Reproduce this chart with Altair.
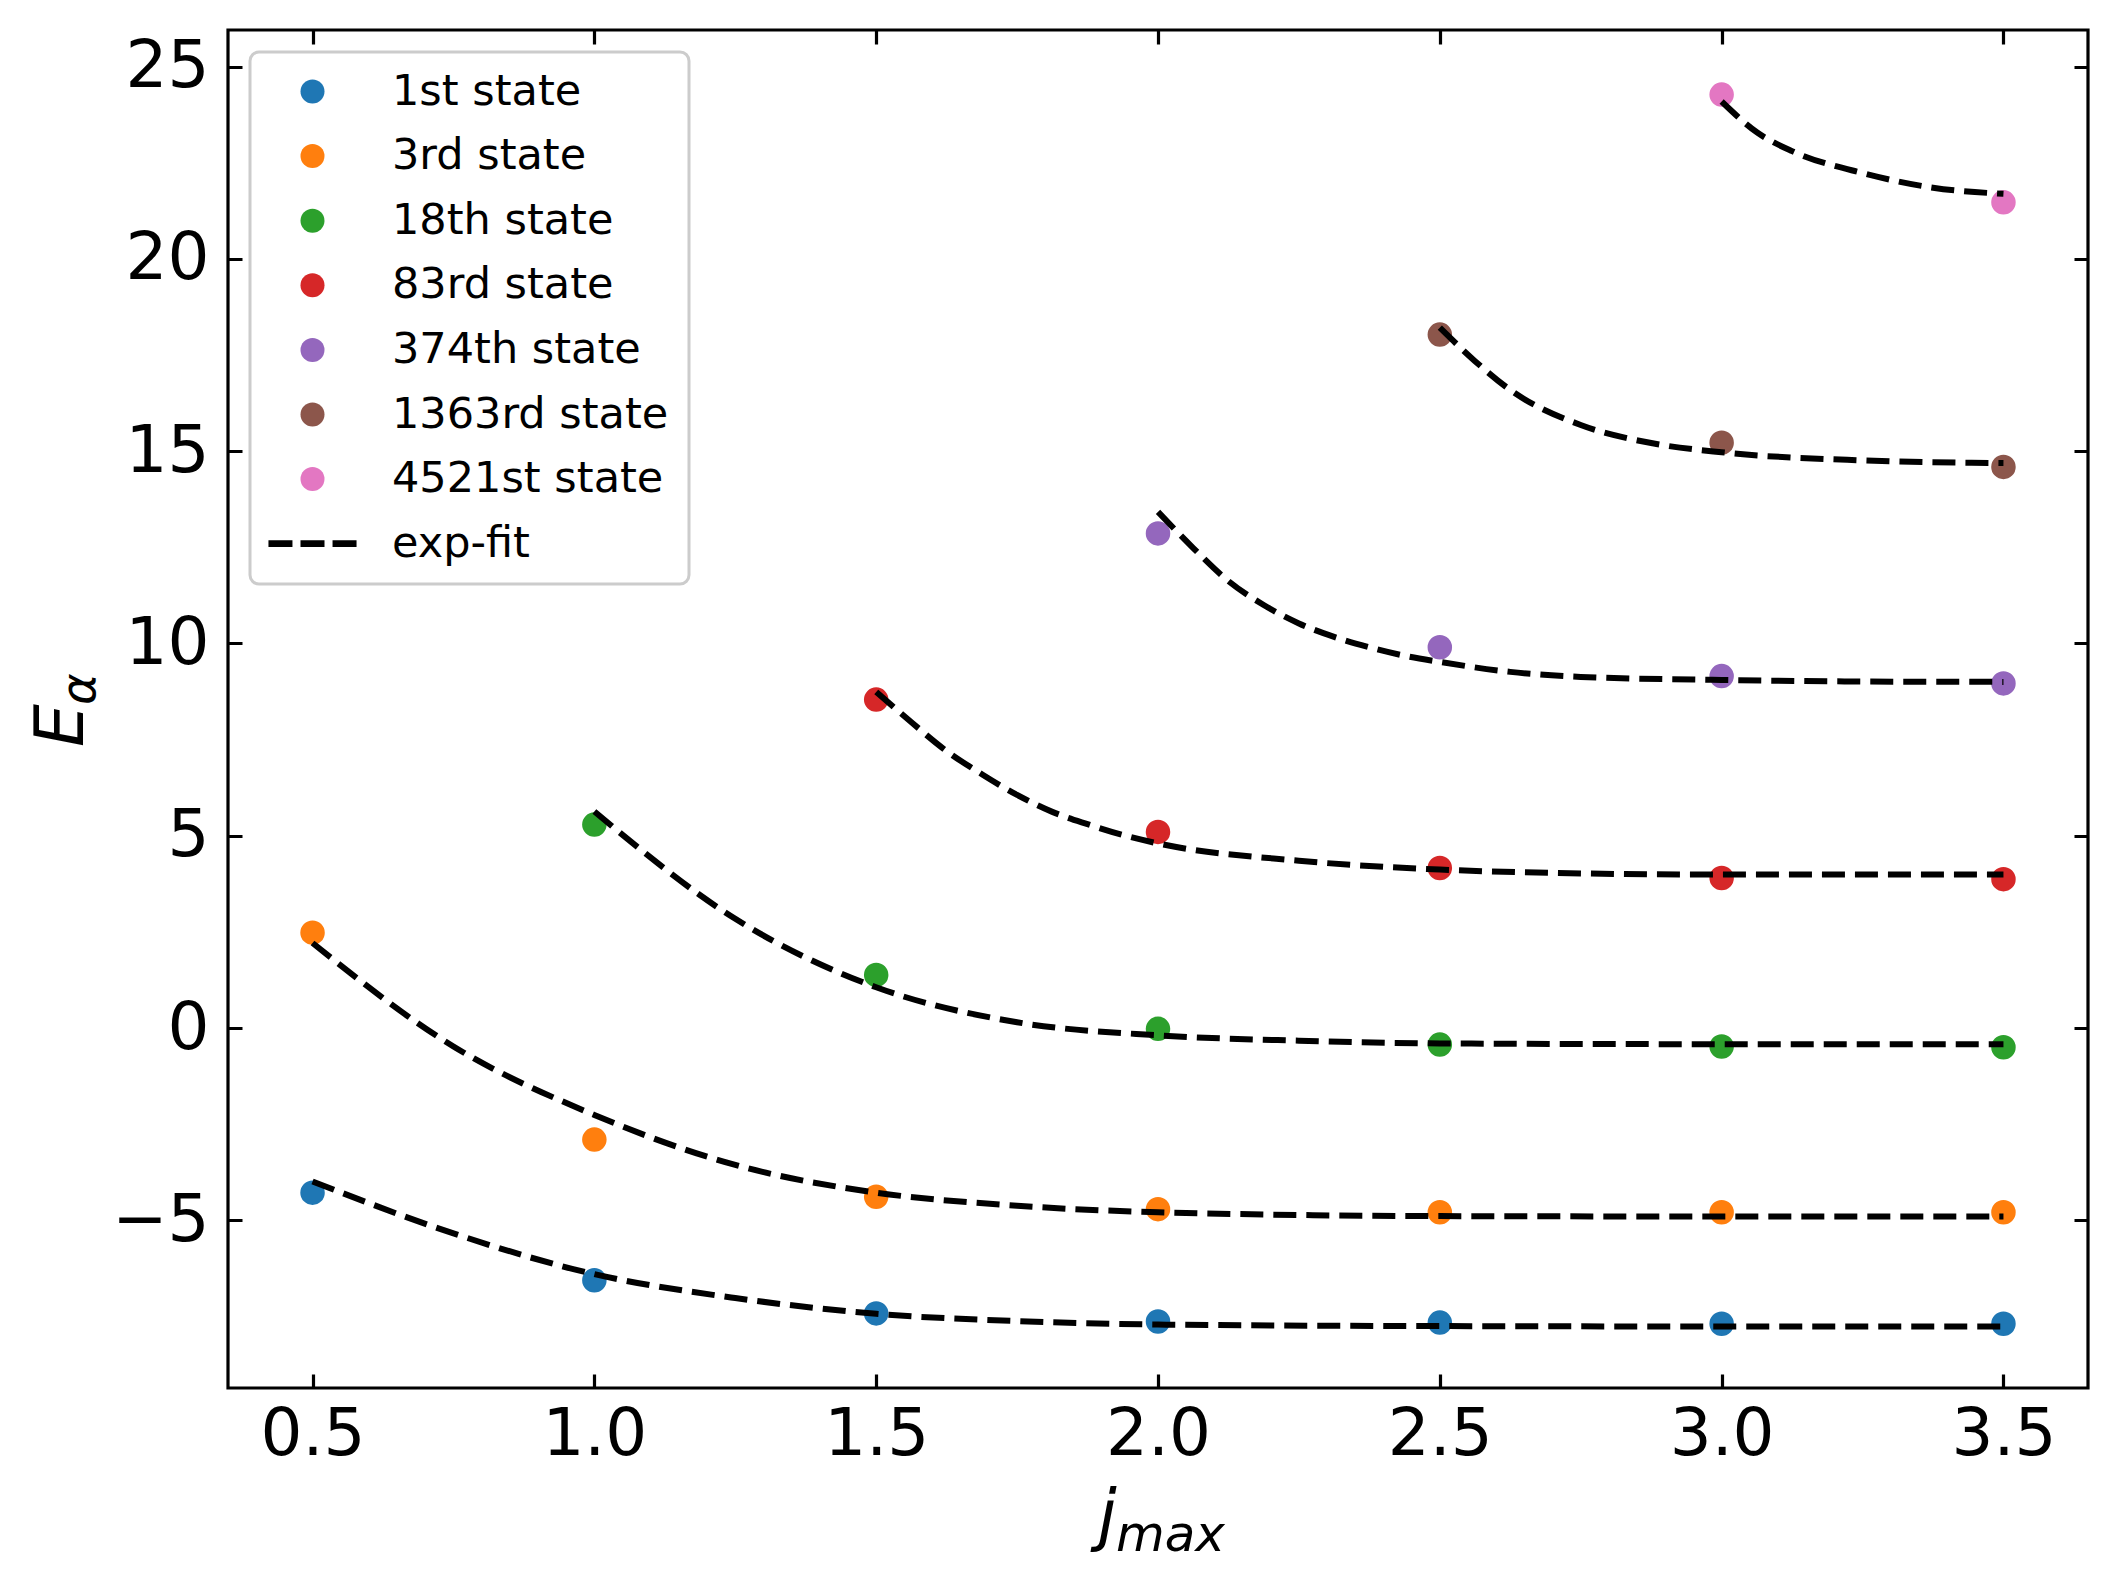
import altair as alt
import pandas as pd

# ---- data ----
state_names = ["1st state", "3rd state", "18th state", "83rd state",
               "374th state", "1363rd state", "4521st state"]
state_colors = ["#1f77b4", "#ff7f0e", "#2ca02c", "#d62728",
                "#9467bd", "#8c564b", "#e377c2"]

jmax_1st = [0.5, 1.0, 1.5, 2.0, 2.5, 3.0, 3.5]
e_1st = [-4.28, -6.56, -7.42, -7.63, -7.66, -7.69, -7.69]
jmax_3rd = [0.5, 1.0, 1.5, 2.0, 2.5, 3.0, 3.5]
e_3rd = [2.48, -2.90, -4.39, -4.71, -4.79, -4.79, -4.79]
jmax_18th = [1.0, 1.5, 2.0, 2.5, 3.0, 3.5]
e_18th = [5.29, 1.38, -0.02, -0.43, -0.48, -0.50]
jmax_83rd = [1.5, 2.0, 2.5, 3.0, 3.5]
e_83rd = [8.54, 5.10, 4.16, 3.90, 3.87]
jmax_374th = [2.0, 2.5, 3.0, 3.5]
e_374th = [12.86, 9.90, 9.15, 8.96]
jmax_1363rd = [2.5, 3.0, 3.5]
e_1363rd = [18.03, 15.22, 14.59]
jmax_4521st = [3.0, 3.5]
e_4521st = [24.27, 21.47]

# exp-fit curves
fit_1st_x = [0.5, 0.75, 1.0, 1.25, 1.5, 1.75, 2.0, 2.5, 3.0, 3.5]
fit_1st_y = [-3.99, -5.34, -6.40, -7.02, -7.43, -7.62, -7.71, -7.75, -7.76, -7.76]
fit_3rd_x = [0.5, 0.75, 1.0, 1.25, 1.5, 1.75, 2.0, 2.5, 3.0, 3.5]
fit_3rd_y = [2.21, -0.48, -2.26, -3.56, -4.28, -4.62, -4.79, -4.89, -4.90, -4.90]
fit_18th_x = [1.0, 1.25, 1.5, 1.75, 2.0, 2.25, 2.5, 3.0, 3.5]
fit_18th_y = [5.63, 2.84, 1.06, 0.15, -0.19, -0.33, -0.40, -0.42, -0.42]
fit_83rd_x = [1.5, 1.5625, 1.625, 1.6875, 1.75, 1.8125, 1.875, 1.9375, 2.0,
              2.25, 2.5, 2.75, 3.0, 3.5]
fit_83rd_y = [8.74, 7.95, 7.20, 6.60, 6.06, 5.62, 5.30, 5.02, 4.80,
              4.35, 4.12, 4.02, 3.99, 3.99]
fit_374th_x = [2.0, 2.0625, 2.125, 2.1875, 2.25, 2.3125, 2.375, 2.4375, 2.5,
               2.625, 2.75, 3.0, 3.25, 3.5]
fit_374th_y = [13.42, 12.48, 11.62, 11.00, 10.52, 10.17, 9.90, 9.68, 9.52,
               9.26, 9.13, 9.05, 9.01, 9.00]
fit_1363rd_x = [2.5, 2.5625, 2.625, 2.75, 2.875, 3.0, 3.25, 3.5]
fit_1363rd_y = [18.21, 17.34, 16.59, 15.68, 15.21, 14.97, 14.76, 14.69]
fit_4521st_x = [3.0, 3.0625, 3.125, 3.25, 3.375, 3.5]
fit_4521st_y = [24.09, 23.29, 22.80, 22.23, 21.85, 21.69]

x_ticks = [0.5, 1.0, 1.5, 2.0, 2.5, 3.0, 3.5]
y_ticks = [-5, 0, 5, 10, 15, 20, 25]
fit_label = "exp-fit"

# ---- tables ----
pts_x = [jmax_1st, jmax_3rd, jmax_18th, jmax_83rd, jmax_374th, jmax_1363rd, jmax_4521st]
pts_y = [e_1st, e_3rd, e_18th, e_83rd, e_374th, e_1363rd, e_4521st]
fit_x = [fit_1st_x, fit_3rd_x, fit_18th_x, fit_83rd_x, fit_374th_x, fit_1363rd_x, fit_4521st_x]
fit_y = [fit_1st_y, fit_3rd_y, fit_18th_y, fit_83rd_y, fit_374th_y, fit_1363rd_y, fit_4521st_y]

pts_rows, fit_rows = [], []
for name, xs, ys in zip(state_names, pts_x, pts_y):
    for a, b in zip(xs, ys):
        pts_rows.append({"state": name, "jmax": a, "E": b})
for name, xs, ys in zip(state_names, fit_x, fit_y):
    for a, b in zip(xs, ys):
        fit_rows.append({"state": name, "jmax": a, "E": b})
pts_df = pd.DataFrame(pts_rows)
fit_df = pd.DataFrame(fit_rows)

W, H = 1860, 1358
FONT = "DejaVu Sans"

x_scale = alt.Scale(domain=[0.35, 3.65], nice=False, zero=False)
y_scale = alt.Scale(domain=[-9.36, 25.95], nice=False, zero=False)

x_axis = alt.Axis(values=x_ticks, format=".1f", title=None, domain=False,
                  ticks=False, tickSize=0, labelPadding=14, labelFontSize=66,
                  labelFont=FONT, labelColor="black", grid=True,
                  gridColor="black", gridWidth=3.2, gridOpacity=1,
                  gridDash=[14, H - 28], labelFlush=False)
y_axis = alt.Axis(values=y_ticks, format="d", title=None, domain=False,
                  ticks=False, tickSize=0, labelPadding=19, labelFontSize=66,
                  labelFont=FONT, labelColor="black", grid=True,
                  gridColor="black", gridWidth=3.2, gridOpacity=1,
                  gridDash=[14, W - 28], labelFlush=False)

dash_path = ("M-3.67,-0.28H-1.67V0.28H-3.67Z "
             "M-1,-0.28H1V0.28H-1Z "
             "M1.67,-0.28H3.67V0.28H1.67Z")

legend_domain = state_names + [fit_label]
color_scale = alt.Scale(domain=legend_domain, range=state_colors + ["black"])
shape_scale = alt.Scale(domain=legend_domain, range=["circle"] * 7 + [dash_path])

legend = alt.Legend(title=None, orient="none", legendX=63, legendY=40,
                    labelFontSize=43, labelFont=FONT, labelColor="black",
                    symbolSize=576, symbolStrokeWidth=0, rowPadding=20.6,
                    labelOffset=58, labelLimit=0, symbolOpacity=1)

frame = alt.Chart(pd.DataFrame({"k": [0]})).mark_rect(
    fill="white", fillOpacity=0.8, stroke="#cccccc", strokeWidth=3,
    cornerRadius=9
).encode(x=alt.value(22), x2=alt.value(461), y=alt.value(22), y2=alt.value(554))

points = alt.Chart(pts_df).mark_point(filled=True, size=600, opacity=1).encode(
    x=alt.X("jmax:Q", scale=x_scale, axis=x_axis),
    y=alt.Y("E:Q", scale=y_scale, axis=y_axis),
    color=alt.Color("state:N", scale=color_scale, legend=legend),
    shape=alt.Shape("state:N", scale=shape_scale, legend=legend),
)

lines = alt.Chart(fit_df).mark_line(
    color="black", strokeWidth=6, strokeDash=[23, 10], interpolate="monotone"
).encode(
    x=alt.X("jmax:Q", scale=x_scale, axis=x_axis),
    y=alt.Y("E:Q", scale=y_scale, axis=y_axis),
    detail="state:N",
)

label_df = pd.DataFrame({"k": [0]})
xlab_main = alt.Chart(label_df).mark_text(
    text="j", font=FONT, fontSize=67, fontStyle="italic", align="left",
    baseline="alphabetic", color="black"
).encode(x=alt.value(870), y=alt.value(1508))
xlab_sub = alt.Chart(label_df).mark_text(
    text="max", font=FONT, fontSize=50, fontStyle="italic", align="left",
    baseline="alphabetic", color="black"
).encode(x=alt.value(888), y=alt.value(1521))
ylab_main = alt.Chart(label_df).mark_text(
    text="E", font=FONT, fontSize=68, fontStyle="italic", align="left",
    baseline="alphabetic", angle=270, color="black"
).encode(x=alt.value(-145), y=alt.value(717))
ylab_sub = alt.Chart(label_df).mark_text(
    text="α", font=FONT, fontSize=48, fontStyle="italic", align="left",
    baseline="alphabetic", angle=270, color="black"
).encode(x=alt.value(-133), y=alt.value(675))

chart = alt.layer(frame, points, lines, xlab_main, xlab_sub, ylab_main, ylab_sub).properties(
    width=W, height=H,
    autosize=alt.AutoSizeParams(type="none"),
    padding={"left": 220, "top": 22, "right": 22, "bottom": 191},
).configure(
    background="white",
    view=alt.ViewConfig(stroke="black", strokeWidth=3.2),
)

chart.save("out.html", embed_options={"renderer": "svg", "actions": False})
